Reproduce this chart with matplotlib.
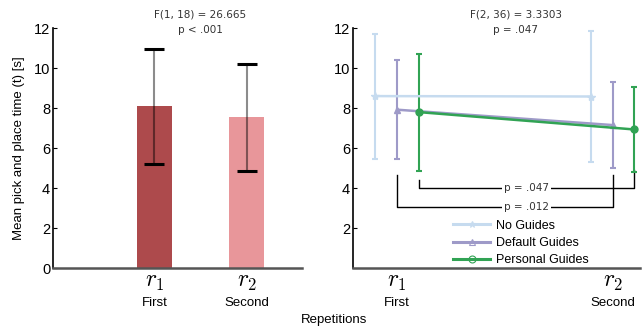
import matplotlib.pyplot as plt
from matplotlib.lines import Line2D
import numpy as np

plt.rcParams['font.family'] = ['Liberation Sans', 'DejaVu Sans']
plt.rcParams['mathtext.fontset'] = 'cm'

# left panel: overall means per repetition
reps = ['$r_1$', '$r_2$']
rep_names = ['First', 'Second']
bar_means = [8.1, 7.55]
bar_err = [2.88, 2.68]
bar_colors = ['#ad4a4c', '#e8969a']

# right panel: per condition
conditions = ['No Guides', 'Default Guides', 'Personal Guides']
cond_means = [[8.6, 8.58], [7.92, 7.15], [7.8, 6.93]]
cond_err = [[3.13, 3.3], [2.47, 2.15], [2.93, 2.12]]
cond_colors = ['#c6dbef', '#9e9ac8', '#31a354']
cond_markers = ['*', '^', 'o']

fig = plt.figure(figsize=(6.43, 3.35), dpi=100)
ax1 = fig.add_axes([0.0824, 0.2, 0.3873, 0.716])
ax2 = fig.add_axes([0.549, 0.2, 0.446, 0.716])

xpos = np.array([1, 2])

# bars
ax1.bar(xpos, bar_means, width=0.38, color=bar_colors, zorder=1)
ax1.errorbar(xpos, bar_means, yerr=bar_err, fmt='none', ecolor='black', alpha=0.45,
             elinewidth=1.5, capsize=0, zorder=2)
ax1.errorbar(xpos, bar_means, yerr=bar_err, fmt='none', ecolor='black', elinewidth=0,
             capsize=7, capthick=2.2, zorder=3)
ax1.set_xlim(-0.1, 2.6)
ax1.set_ylim(0, 12)
ax1.set_yticks([0, 2, 4, 6, 8, 10, 12])
ax1.text(1.5, 12.3, 'F(1, 18) = 26.665\np < .001', ha='center', va='center',
         fontsize=7.5, family='DejaVu Sans', color='#333333', linespacing=1.6)

# lines
offsets = [-0.1, 0, 0.1]
handles = []
for i, name in enumerate(conditions):
    ax2.errorbar(xpos + offsets[i], cond_means[i], yerr=cond_err[i], color=cond_colors[i],
                 marker=cond_markers[i], markersize=6 if i == 0 else 5, linewidth=1.8,
                 elinewidth=1.5, capsize=2, capthick=1.5)
    handles.append(Line2D([], [], color=cond_colors[i], marker=cond_markers[i], linewidth=2.2,
                          markersize=5, markerfacecolor='none', markeredgewidth=0.8))

ax2.set_xlim(0.796, 2.125)
ax2.set_ylim(0, 12)
ax2.set_yticks([2, 4, 6, 8, 10, 12])
ax2.text(1.55, 12.3, 'F(2, 36) = 3.3303\np = .047', ha='center', va='center',
         fontsize=7.5, family='DejaVu Sans', color='#333333', linespacing=1.6)

# significance brackets
def bracket(ax, x0, x1, y0, y1, ybar, label):
    ax.plot([x0, x0, x1, x1], [y0, ybar, ybar, y1], color='black', linewidth=1, zorder=1)
    ax.text(1.6, ybar, label, ha='center', va='center', fontsize=7.5, family='DejaVu Sans',
            color='#333333', bbox=dict(facecolor='white', edgecolor='none', pad=1.5), zorder=2)

bracket(ax2, 1.1, 2.1, 4.4, 4.9, 4.0, 'p = .047')
bracket(ax2, 1.0, 2.0, 4.65, 4.65, 3.07, 'p = .012')

ax2.legend(handles, conditions, loc='upper left', bbox_to_anchor=(0.332, 0.222), frameon=False,
           fontsize=9, handlelength=2.95, handletextpad=0.45, labelspacing=0.42, borderaxespad=0)

for ax in (ax1, ax2):
    ax.spines['top'].set_visible(False)
    ax.spines['right'].set_visible(False)
    ax.spines['left'].set_linewidth(1.2)
    ax.spines['bottom'].set_linewidth(1.8)
    ax.spines['bottom'].set_color('#555555')
    ax.tick_params(axis='y', direction='in', length=3, labelsize=10.5, pad=2)
    ax.tick_params(axis='x', length=0, labelsize=17, pad=2)
    ax.set_xticks(xpos)
    ax.set_xticklabels(reps)
    for x, nm in zip(xpos, rep_names):
        ax.text(x, -0.12, nm, transform=ax.get_xaxis_transform(), ha='center', va='top',
                fontsize=9.5)

ax1.set_ylabel('Mean pick and place time (t) [s]', fontsize=9.5, labelpad=6)
fig.text(0.52, 0.045, 'Repetitions', ha='center', va='center', fontsize=9.5)

fig.savefig('out.png', dpi=100)
